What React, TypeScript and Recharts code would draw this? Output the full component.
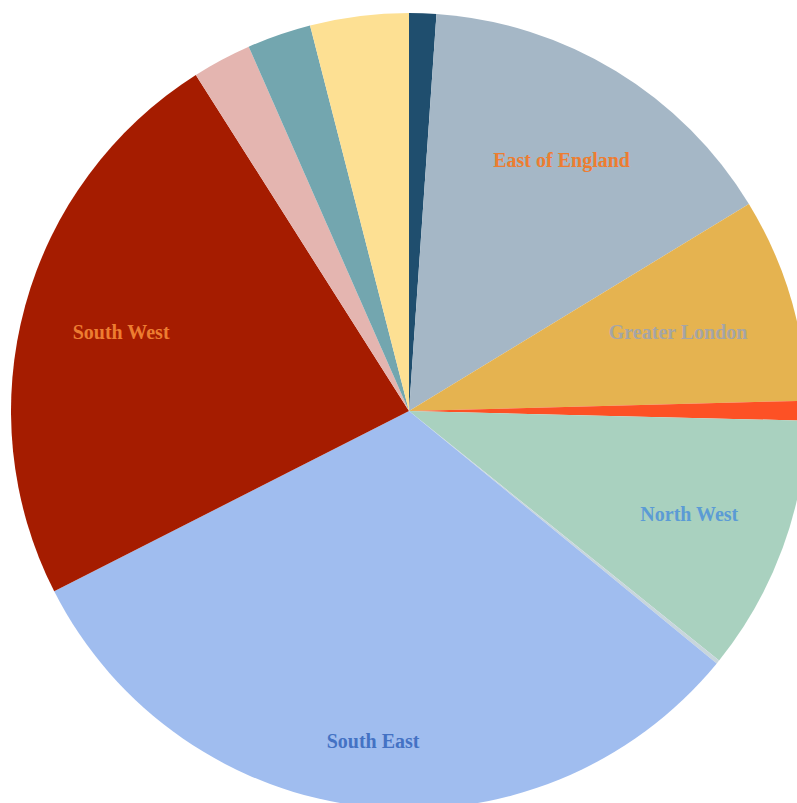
import { PieChart, Pie, Cell } from 'recharts';

const regions = [
  'East Midlands',
  'East of England',
  'Greater London',
  'North East',
  'North West',
  'Scotland',
  'South East',
  'South West',
  'Wales',
  'West Midlands',
  'Yorkshire and the Humber',
];

const shares = [1.1, 15.2, 8.3, 0.8, 10.4, 0.15, 31.6, 23.5, 2.4, 2.6, 4.0];

const sliceColors = [
  '#1f4e6e',
  '#a5b7c6',
  '#e5b350',
  '#fd5125',
  '#a9d1bf',
  '#c8d6dc',
  '#a0bdef',
  '#a51c00',
  '#e4b5b0',
  '#73a6af',
  '#fde093',
];

const labelColors = ['#4472c4', '#ed7d31', '#a5a5a5', '#ffc000', '#5b9bd5', '#70ad47'];

const data = regions.map((name, i) => ({ name, value: shares[i] }));

const RADIAN = Math.PI / 180;
// label distance as a fraction of the radius, tuned per slice
const labelRadius: Record<string, number> = {
  'East of England': 0.738,
  'Greater London': 0.705,
  'South East': 0.835,
};

const renderLabel = (props: any) => {
  const { cx, cy, midAngle, outerRadius, index, name, percent } = props;
  if (percent < 0.05) return null;
  const r = outerRadius * (labelRadius[name] ?? 0.75);
  const x = cx + r * Math.cos(-midAngle * RADIAN);
  const y = cy + r * Math.sin(-midAngle * RADIAN);
  return (
    <text
      x={x}
      y={y}
      textAnchor="middle"
      dominantBaseline="central"
      fill={labelColors[index % labelColors.length]}
      fontFamily="'Liberation Serif', serif"
      fontWeight="bold"
      fontSize={20}
    >
      {name}
    </text>
  );
};

export default function App() {
  return (
    <div style={{ position: 'absolute', left: 0, top: 0, width: 797, height: 803, overflow: 'hidden', background: '#fff' }}>
      <PieChart width={797} height={803} margin={{ top: 0, right: 0, bottom: 0, left: 0 }}>
        <Pie
          data={data}
          dataKey="value"
          nameKey="name"
          cx={409}
          cy={411}
          outerRadius={398}
          startAngle={90}
          endAngle={-270}
          stroke="none"
          labelLine={false}
          label={renderLabel}
          isAnimationActive={false}
        >
          {data.map((d, i) => (
            <Cell key={d.name} fill={sliceColors[i]} />
          ))}
        </Pie>
      </PieChart>
    </div>
  );
}
